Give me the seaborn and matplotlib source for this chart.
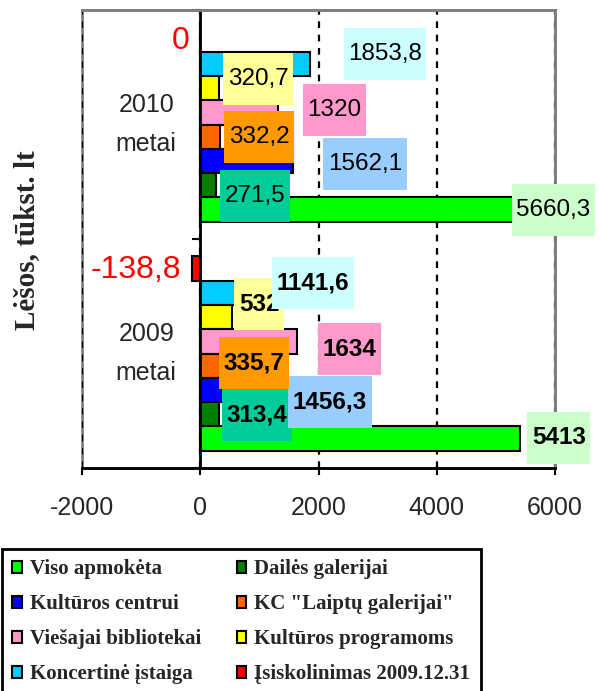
import numpy as np
import pandas as pd
import seaborn as sns
import matplotlib.pyplot as plt
from matplotlib.patches import Patch, Rectangle

# Chart data
years = ["2010\nmetai", "2009\nmetai"]
series = ["Viso apmokėta", "Dailės galerijai", "Kultūros centrui", 'KC "Laiptų galerijai"',
          "Viešajai bibliotekai", "Kultūros programoms", "Koncertinė įstaiga",
          "Įsiskolinimas 2009.12.31"]
values_2010 = [5660.3, 271.5, 1562.1, 332.2, 1320, 320.7, 1853.8, 0]
values_2009 = [5413, 313.4, 1456.3, 335.7, 1634, 532, 1141.6, -138.8]
x_ticks = [-2000, 0, 2000, 4000, 6000]

colors = ["#00FF00", "#008000", "#0000FF", "#FF6600", "#FF99CC", "#FFFF00", "#00CCFF", "#FF0000"]
box_colors = ["#CCFFCC", "#00CC99", "#99CCFF", "#FF9900", "#FF99CC", "#FFFF99", "#CCFFFF"]

# Label layout (Excel's hand-placed labels): centre x in data units, vertical shift in px
label_x = {0: [5971, 929, 2787, 997, 2264, 980, 3125],
           1: [6064, 963, 2196, 912, 2517, 997, 1909]}
label_dy = {0: [0, 11, 3, 0, -2, -9, -10],
            1: [-1, 1, 12, -3, 8, -13, -10]}
label_weight = {0: "normal", 1: "bold"}


def fmt(v):
    return f"{v:g}".replace(".", ",")


df = pd.DataFrame({
    "Metai": np.repeat(years, len(series)),
    "Grupė": series * 2,
    "Lėšos": values_2010 + values_2009,
})

sns.set_theme(style="white")
plt.rcParams["font.family"] = ["Liberation Sans", "DejaVu Sans"]

fig = plt.figure(figsize=(5.99, 6.91), dpi=100)
ax = fig.add_axes([82 / 599, 1 - 468 / 691, (555 - 82) / 599, (468 - 10) / 691])

sns.barplot(data=df, y="Metai", x="Lėšos", hue="Grupė", order=years,
            hue_order=series[::-1], palette=dict(zip(series, colors)),
            width=0.85, saturation=1, edgecolor="black", linewidth=1.5,
            orient="y", legend=False, ax=ax)

ax.set_xlim(-2000, 6000)
ax.set_ylim(1.5, -0.5)
ax.set_xlabel("")
ax.set_ylabel("")

# axes frame: gray border, black axes crossing at 0
ax.patch.set_edgecolor("#808080")
ax.patch.set_linewidth(2)
for s in ["top", "right"]:
    ax.spines[s].set_color("#808080")
    ax.spines[s].set_linewidth(2)
ax.spines["left"].set_position(("data", 0))
ax.spines["left"].set_color("black")
ax.spines["left"].set_linewidth(2)
ax.spines["bottom"].set_color("black")
ax.spines["bottom"].set_linewidth(2)

ax.set_axisbelow(True)
ax.xaxis.grid(True, linestyle=(0, (3, 3)), color="black", linewidth=1.6)
ax.yaxis.grid(False)

ax.set_xticks(x_ticks)
ax.set_xticklabels([str(t) for t in x_ticks])
ax.tick_params(axis="x", direction="out", length=5, width=1.5, color="black",
               labelsize=18, pad=15, bottom=True)

ax.set_yticks([0, 1])
ax.set_yticklabels(years, fontsize=18)
for lbl in ax.get_yticklabels():
    lbl.set_multialignment("center")
    lbl.set_verticalalignment("center")
    lbl.set_linespacing(1.75)
ax.set_yticks([-0.5, 0.5, 1.5], minor=True)
ax.tick_params(axis="y", which="major", length=0, pad=17, left=True)
ax.tick_params(axis="y", which="minor", direction="out", length=5.5, width=1.5,
               color="black", left=True)

fig.text(27 / 599, 1 - 240 / 691, "Lėšos, tūkst. lt", rotation=90, ha="center", va="center",
         fontfamily="Liberation Serif", fontweight="bold", fontsize=21)

# data labels
n = len(series)
values = {0: values_2010, 1: values_2009}
boxed = []
for yi in range(2):
    for s in range(n):
        bar = ax.containers[n - 1 - s][yi]
        yc = bar.get_y() + bar.get_height() / 2
        v = values[yi][s]
        if s == n - 1:
            ax.annotate(fmt(v), xy=(v, yc), xytext=(-11, -1.5), textcoords="offset pixels",
                        ha="right", va="center", color="#FF0000", fontsize=23, zorder=30)
            continue
        t = ax.annotate(fmt(v), xy=(label_x[yi][s], yc), xytext=(0, -label_dy[yi][s]),
                        textcoords="offset pixels", ha="center", va="center",
                        fontsize=17.5, fontweight=label_weight[yi], color="black",
                        zorder=6 + 2 * s, annotation_clip=False)
        boxed.append((t, box_colors[s], 5 + 2 * s))

fig.canvas.draw()
inv = ax.transData.inverted()
for t, c, z in boxed:
    bb = t.get_window_extent()
    yc = (bb.y0 + bb.y1) / 2
    (x0, y0), (x1, y1) = inv.transform([(bb.x0 - 4.5, yc - 26), (bb.x1 + 4.5, yc + 26)])
    ax.add_patch(Rectangle((x0, min(y0, y1)), x1 - x0, abs(y1 - y0), facecolor=c,
                           edgecolor="none", zorder=z, clip_on=False))

# legend, filled column by column like the original two-column layout
order = [0, 2, 4, 6, 1, 3, 5, 7]
handles = [Patch(facecolor=colors[i], edgecolor="black", linewidth=1.5) for i in order]
leg = fig.legend(handles, [series[i] for i in order], ncol=2, loc="upper left",
                 bbox_to_anchor=(2 / 599, 1 - 549 / 691), borderaxespad=0,
                 prop={"family": "Liberation Serif", "weight": "bold", "size": 15},
                 frameon=True, fancybox=False, edgecolor="black", framealpha=1,
                 handlelength=0.45, handleheight=0.45, handletextpad=0.4,
                 columnspacing=1.7, labelspacing=0.72, borderpad=0.5)
leg.get_frame().set_linewidth(2)

fig.savefig("out.png", dpi=100)
